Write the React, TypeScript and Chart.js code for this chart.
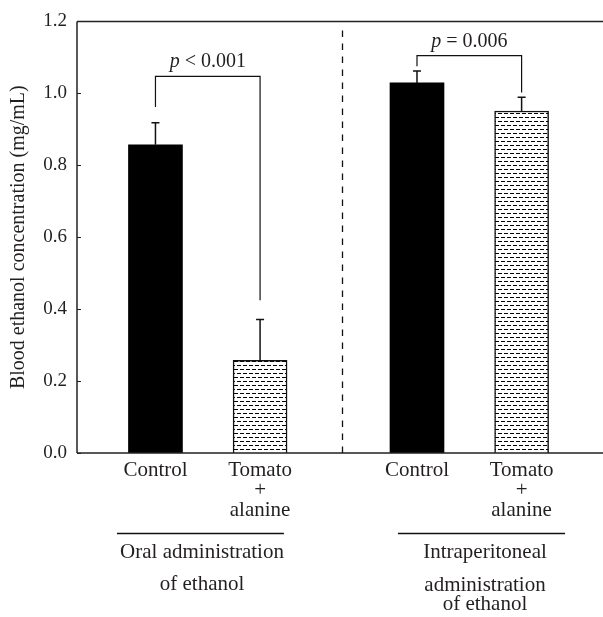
import React, { useEffect, useRef } from "react";
import { Chart, registerables } from "chart.js";

Chart.register(...registerables);

// ---- data ----
const categories: string[][] = [["Control"], ["Tomato", "+", "alanine"], ["Control"], ["Tomato", "+", "alanine"]];
const barPositions = [1, 2, 3.5, 4.5];
const means = [0.857, 0.258, 1.029, 0.951];
const errors = [0.061, 0.113, 0.033, 0.038];
const yTicks = [0, 0.2, 0.4, 0.6, 0.8, 1.0, 1.2];
const groupLabels: string[][] = [["Oral administration", "of ethanol"], ["Intraperitoneal", "administration", "of ethanol"]];
const groupCenters = [1.445, 4.15];
const groupLineFrom = [0.632, 3.318];
const groupLineTo = [2.228, 4.915];
const pSymbols = ["p", "p"];
const pRest = [" < 0.001", " = 0.006"];
const bracketLeftBar = [0, 2];
const bracketRightBar = [1, 3];
const bracketTop = [1.047, 1.105];
const bracketLeftStart = [0.962, 1.075];
const bracketRightStart = [0.425, 1.002];
const dividerPosition = 2.78;
const yTitle = "Blood ethanol concentration (mg/mL)";

const SERIF = '"Liberation Serif", "Times New Roman", serif';
const INK = "#231f20";

function makePattern(): CanvasPattern | string {
  const tile = document.createElement("canvas");
  tile.width = 6;
  tile.height = 8;
  const c = tile.getContext("2d");
  if (!c) return "#fff";
  c.fillStyle = "#fff";
  c.fillRect(0, 0, 6, 8);
  c.fillStyle = "#000";
  c.fillRect(0, 1, 4, 1);
  c.fillRect(3, 5, 3, 1);
  c.fillRect(0, 5, 1, 1);
  return c.createPattern(tile, "repeat") || "#888";
}

const annotations = {
  id: "annotations",
  afterDraw(chart: any) {
    const { ctx, chartArea, scales } = chart;
    const xs = scales.x;
    const ys = scales.y;
    const { left, right, top, bottom } = chartArea;
    ctx.save();
    ctx.strokeStyle = "#222";
    ctx.fillStyle = INK;

    // frame lines
    ctx.lineWidth = 1.5;
    ctx.beginPath();
    ctx.moveTo(left, top);
    ctx.lineTo(left, bottom);
    ctx.moveTo(left, bottom);
    ctx.lineTo(right, bottom);
    ctx.moveTo(left, top);
    ctx.lineTo(right, top);
    ctx.stroke();

    // inward y ticks
    ctx.lineWidth = 1;
    ctx.beginPath();
    yTicks.forEach((v) => {
      const py = Math.round(ys.getPixelForValue(v)) + 0.5;
      ctx.moveTo(left, py);
      ctx.lineTo(left + 4, py);
    });
    ctx.stroke();

    // error bars
    ctx.lineWidth = 1.5;
    ctx.strokeStyle = "#111";
    ctx.beginPath();
    barPositions.forEach((p, i) => {
      const px = xs.getPixelForValue(p);
      const y0 = ys.getPixelForValue(means[i]);
      const y1 = ys.getPixelForValue(means[i] + errors[i]);
      ctx.moveTo(px, y0);
      ctx.lineTo(px, y1);
      ctx.moveTo(px - 4, y1);
      ctx.lineTo(px + 4, y1);
    });
    ctx.stroke();

    // brackets
    ctx.lineWidth = 1.2;
    ctx.beginPath();
    bracketTop.forEach((t, i) => {
      const xl = xs.getPixelForValue(barPositions[bracketLeftBar[i]]);
      const xr = xs.getPixelForValue(barPositions[bracketRightBar[i]]);
      const yt = ys.getPixelForValue(t);
      ctx.moveTo(xl, ys.getPixelForValue(bracketLeftStart[i]));
      ctx.lineTo(xl, yt);
      ctx.lineTo(xr, yt);
      ctx.lineTo(xr, ys.getPixelForValue(bracketRightStart[i]));
    });
    ctx.stroke();

    // p texts
    ctx.textBaseline = "alphabetic";
    ctx.textAlign = "left";
    bracketTop.forEach((t, i) => {
      const xl = xs.getPixelForValue(barPositions[bracketLeftBar[i]]);
      const xr = xs.getPixelForValue(barPositions[bracketRightBar[i]]);
      const cx = (xl + xr) / 2;
      const yt = ys.getPixelForValue(t) - 9;
      ctx.font = `italic 20px ${SERIF}`;
      const w1 = ctx.measureText(pSymbols[i]).width;
      ctx.font = `20px ${SERIF}`;
      const w2 = ctx.measureText(pRest[i]).width;
      const x0 = cx - (w1 + w2) / 2;
      ctx.font = `italic 20px ${SERIF}`;
      ctx.fillText(pSymbols[i], x0, yt);
      ctx.font = `20px ${SERIF}`;
      ctx.fillText(pRest[i], x0 + w1, yt);
    });

    // dashed divider
    const dx = Math.round(xs.getPixelForValue(dividerPosition)) + 0.5;
    ctx.setLineDash([6.5, 6.5]);
    ctx.lineWidth = 1.3;
    ctx.beginPath();
    ctx.moveTo(dx, top + 9);
    ctx.lineTo(dx, bottom);
    ctx.stroke();
    ctx.setLineDash([]);

    // group lines and labels
    ctx.lineWidth = 1.3;
    ctx.beginPath();
    groupLineFrom.forEach((f, i) => {
      const ly = bottom + 80.5;
      ctx.moveTo(xs.getPixelForValue(f), ly);
      ctx.lineTo(xs.getPixelForValue(groupLineTo[i]), ly);
    });
    ctx.stroke();
    ctx.font = `21px ${SERIF}`;
    ctx.textAlign = "center";
    const lineOffsets = [[105, 137], [105, 138, 157]];
    groupLabels.forEach((lines, i) => {
      const cx = xs.getPixelForValue(groupCenters[i]);
      lines.forEach((s, j) => ctx.fillText(s, cx, bottom + lineOffsets[i][j]));
    });

    // y title
    ctx.save();
    ctx.translate(24, (top + bottom) / 2);
    ctx.rotate(-Math.PI / 2);
    ctx.font = `20px ${SERIF}`;
    ctx.textAlign = "center";
    ctx.fillText(yTitle, 0, 0);
    ctx.restore();

    ctx.restore();
  },
};

export default function App() {
  const ref = useRef<HTMLCanvasElement | null>(null);
  useEffect(() => {
    document.body.style.margin = "0";
    const canvas = ref.current;
    if (!canvas) return;
    const pattern = makePattern();
    const chart = new Chart(canvas, {
      type: "bar",
      data: {
        datasets: [
          {
            data: barPositions.map((x, i) => ({ x, y: means[i] })) as any,
            backgroundColor: ["#000", pattern, "#000", pattern] as any,
            borderColor: "#111",
            borderWidth: [0, 1.5, 0, 1.5] as any,
            barThickness: 54,
          },
        ],
      },
      options: {
        responsive: false,
        animation: false,
        layout: { padding: { top: 16, right: 0, left: 0, bottom: 0 } },
        plugins: { legend: { display: false }, tooltip: { enabled: false } },
        scales: {
          x: {
            type: "linear",
            min: 0.25,
            max: 5.278,
            offset: false,
            afterBuildTicks: (s: any) => {
              s.ticks = barPositions.map((v) => ({ value: v }));
            },
            afterFit: (s: any) => {
              s.height = 164;
            },
            ticks: {
              autoSkip: false,
              maxRotation: 0,
              minRotation: 0,
              padding: 7,
              color: INK,
              font: { family: SERIF, size: 21, lineHeight: "20px" } as any,
              callback: (_v: any, i: number) => categories[i],
            },
            grid: { display: false, drawTicks: false },
            border: { display: false },
          },
          y: {
            min: 0,
            max: 1.2,
            afterBuildTicks: (s: any) => {
              s.ticks = yTicks.map((v) => ({ value: v }));
            },
            afterFit: (s: any) => {
              s.width = 77;
            },
            ticks: {
              padding: 10,
              color: INK,
              font: { family: SERIF, size: 19 },
              callback: (v: any) => Number(v).toFixed(1),
            },
            grid: { display: false, drawTicks: false },
            border: { display: false },
          },
        },
      },
      plugins: [annotations],
    });
    return () => chart.destroy();
  }, []);
  return <canvas ref={ref} width={603} height={617} style={{ display: "block" }} />;
}
